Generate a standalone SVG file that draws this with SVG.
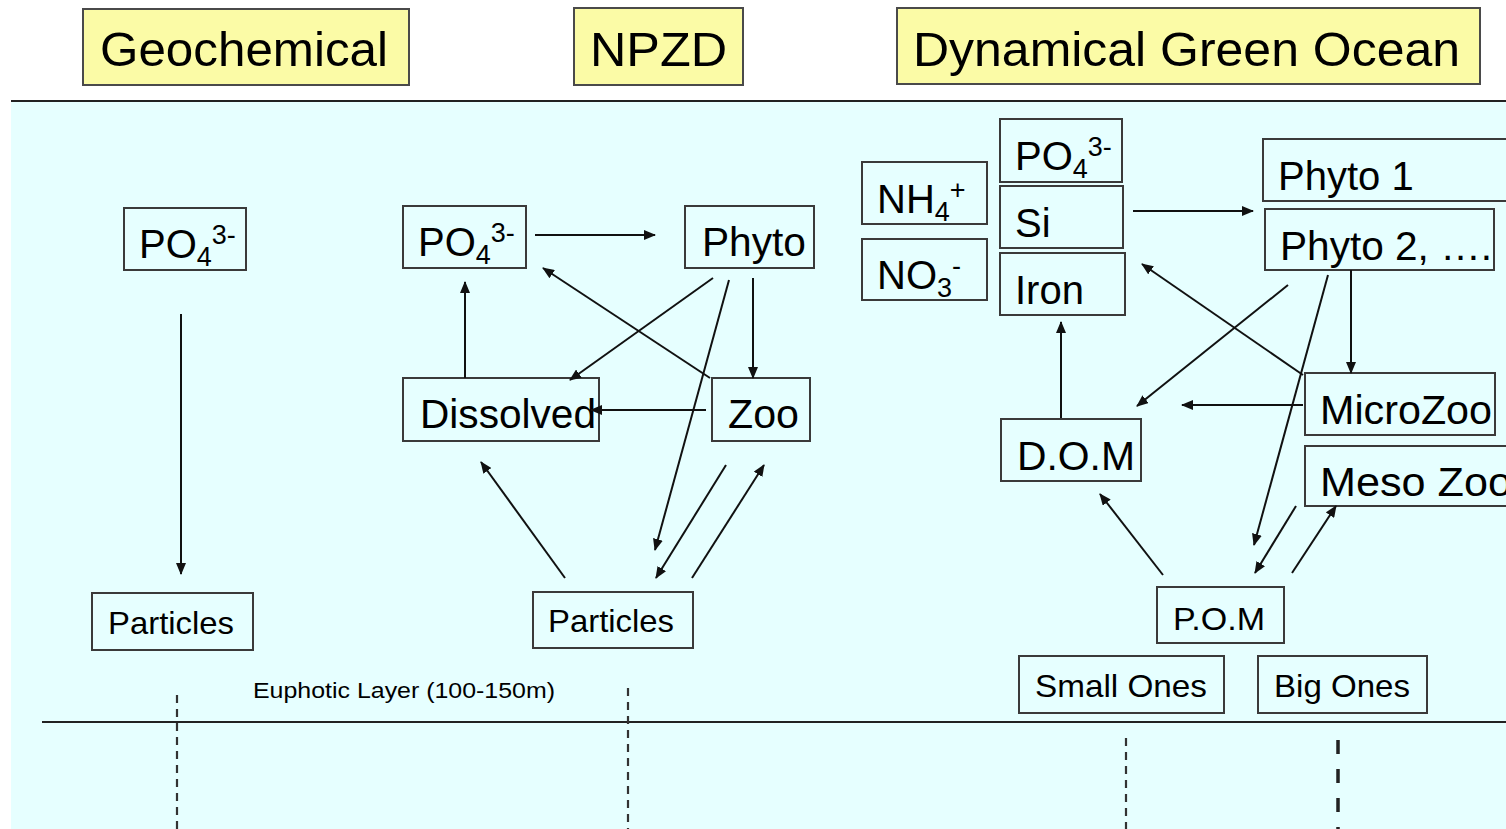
<svg xmlns="http://www.w3.org/2000/svg" width="1506" height="829" viewBox="0 0 1506 829">
<defs>
<style>
.title{fill:#FBFBA6;stroke:#4a4a4a;stroke-width:2}
.box{fill:none;stroke:#3a3a3a;stroke-width:2}
.tt{font-family:"Liberation Sans",Arial,sans-serif;font-size:48px;fill:#000}
.lb{font-family:"Liberation Sans",Arial,sans-serif;font-size:40px;fill:#000}
.sm{font-family:"Liberation Sans",Arial,sans-serif;font-size:32px;fill:#000}
.sub{font-size:27px}
.ar{stroke:#111;stroke-width:2;fill:none;marker-end:url(#ah)}
.dash{stroke:#333;stroke-width:2.2;stroke-dasharray:8 6;fill:none}
</style>
<marker id="ah" viewBox="0 0 12 10" refX="11" refY="5" markerWidth="12" markerHeight="10" markerUnits="userSpaceOnUse" orient="auto">
<path d="M0,0 L12,5 L0,10 z" fill="#111"/>
</marker>
</defs>
<rect x="0" y="0" width="1506" height="829" fill="#fff"/>
<rect x="11" y="102" width="1495" height="727" fill="#E6FFFF"/>
<line x1="11" y1="101" x2="1506" y2="101" stroke="#222" stroke-width="2"/>
<line x1="42" y1="722" x2="1506" y2="722" stroke="#222" stroke-width="2"/>
<g id="depth-lines">
<line class="dash" x1="177" y1="695" x2="177" y2="829"/>
<line class="dash" x1="628" y1="688" x2="628" y2="829"/>
<line class="dash" x1="1126" y1="738" x2="1126" y2="829"/>
<line x1="1338" y1="740" x2="1338" y2="829" stroke="#222" stroke-width="3.5" stroke-dasharray="14 15"/>
</g>
<text x="253" y="698" font-family="Liberation Sans, Arial, sans-serif" font-size="22" textLength="302" lengthAdjust="spacingAndGlyphs">Euphotic Layer (100-150m)</text>

<g id="title-geochemical"><rect class="title" x="83" y="9" width="326" height="76"/><text class="tt" x="100" y="66" textLength="288" lengthAdjust="spacingAndGlyphs">Geochemical</text></g>
<g id="title-npzd"><rect class="title" x="574" y="8" width="169" height="77"/><text class="tt" x="590" y="66" textLength="137" lengthAdjust="spacingAndGlyphs">NPZD</text></g>
<g id="title-dgo"><rect class="title" x="897" y="8" width="583" height="76"/><text class="tt" x="913" y="66" textLength="547" lengthAdjust="spacingAndGlyphs">Dynamical Green Ocean</text></g>

<!-- Geochemical -->
<g id="geo-po4"><rect class="box" x="124" y="208" width="122" height="62"/><text class="lb" x="139" y="258">PO<tspan class="sub" dy="8">4</tspan><tspan class="sub" dy="-22">3-</tspan></text></g>
<g id="geo-particles"><rect class="box" x="92" y="593" width="161" height="57"/><text class="sm" x="108" y="634" textLength="126" lengthAdjust="spacingAndGlyphs">Particles</text></g>

<!-- NPZD -->
<g id="npzd-po4"><rect class="box" x="403" y="206" width="123" height="62"/><text class="lb" x="418" y="256">PO<tspan class="sub" dy="8">4</tspan><tspan class="sub" dy="-22">3-</tspan></text></g>
<g id="npzd-phyto"><rect class="box" x="685" y="206" width="129" height="62"/><text class="lb" x="702" y="256" textLength="104" lengthAdjust="spacingAndGlyphs">Phyto</text></g>
<g id="npzd-dissolved"><rect class="box" x="403" y="378" width="196" height="63"/><text class="lb" x="420" y="428" textLength="176" lengthAdjust="spacingAndGlyphs">Dissolved</text></g>
<g id="npzd-zoo"><rect class="box" x="712" y="378" width="98" height="63"/><text class="lb" x="728" y="428" textLength="71" lengthAdjust="spacingAndGlyphs">Zoo</text></g>
<g id="npzd-particles"><rect class="box" x="533" y="592" width="160" height="56"/><text class="sm" x="548" y="632" textLength="126" lengthAdjust="spacingAndGlyphs">Particles</text></g>

<!-- Dynamical Green Ocean -->
<g id="dgo-nh4"><rect class="box" x="862" y="162" width="125" height="62"/><text class="lb" x="877" y="213">NH<tspan class="sub" dy="8">4</tspan><tspan class="sub" dy="-22">+</tspan></text></g>
<g id="dgo-no3"><rect class="box" x="862" y="239" width="125" height="61"/><text class="lb" x="877" y="289">NO<tspan class="sub" dy="8">3</tspan><tspan class="sub" dy="-22">-</tspan></text></g>
<g id="dgo-po4"><rect class="box" x="1000" y="119" width="122" height="63"/><text class="lb" x="1015" y="170">PO<tspan class="sub" dy="8">4</tspan><tspan class="sub" dy="-22">3-</tspan></text></g>
<g id="dgo-si"><rect class="box" x="1000" y="186" width="123" height="62"/><text class="lb" x="1015" y="237">Si</text></g>
<g id="dgo-iron"><rect class="box" x="1000" y="253" width="125" height="62"/><text class="lb" x="1015" y="304">Iron</text></g>
<g id="dgo-phyto1"><rect class="box" x="1263" y="139" width="250" height="62"/><text class="lb" x="1278" y="190">Phyto 1</text></g>
<g id="dgo-phyto2"><rect class="box" x="1265" y="209" width="229" height="61"/><text class="lb" x="1280" y="260" textLength="212" lengthAdjust="spacingAndGlyphs">Phyto 2, ….</text></g>
<g id="dgo-microzoo"><rect class="box" x="1305" y="373" width="190" height="62"/><text class="lb" x="1320" y="424" textLength="172" lengthAdjust="spacingAndGlyphs">MicroZoo</text></g>
<g id="dgo-mesozoo"><rect class="box" x="1305" y="446" width="210" height="60"/><text class="lb" x="1320" y="496" textLength="192" lengthAdjust="spacingAndGlyphs">Meso Zoo</text></g>
<g id="dgo-dom"><rect class="box" x="1001" y="419" width="140" height="62"/><text class="lb" x="1017" y="470" textLength="118" lengthAdjust="spacingAndGlyphs">D.O.M</text></g>
<g id="dgo-pom"><rect class="box" x="1157" y="587" width="127" height="56"/><text class="sm" x="1173" y="630" textLength="92" lengthAdjust="spacingAndGlyphs">P.O.M</text></g>
<g id="dgo-small"><rect class="box" x="1019" y="656" width="205" height="57"/><text class="sm" x="1035" y="697" textLength="172" lengthAdjust="spacingAndGlyphs">Small Ones</text></g>
<g id="dgo-big"><rect class="box" x="1258" y="656" width="169" height="57"/><text class="sm" x="1274" y="697" textLength="136" lengthAdjust="spacingAndGlyphs">Big Ones</text></g>

<g id="connectors">
<line class="ar" x1="181" y1="314" x2="181" y2="574"/>
<line class="ar" x1="535" y1="235" x2="655" y2="235"/>
<line class="ar" x1="465" y1="378" x2="465" y2="282"/>
<line class="ar" x1="713" y1="278" x2="570" y2="380"/>
<line class="ar" x1="710" y1="378" x2="543" y2="268"/>
<line class="ar" x1="753" y1="278" x2="753" y2="378"/>
<line class="ar" x1="706" y1="410" x2="591" y2="410"/>
<line class="ar" x1="729" y1="280" x2="655" y2="550"/>
<line class="ar" x1="726" y1="465" x2="656" y2="578"/>
<line class="ar" x1="692" y1="578" x2="764" y2="465"/>
<line class="ar" x1="565" y1="578" x2="481" y2="462"/>
<line class="ar" x1="1133" y1="211" x2="1253" y2="211"/>
<line class="ar" x1="1061" y1="418" x2="1061" y2="322"/>
<line class="ar" x1="1288" y1="285" x2="1137" y2="406"/>
<line class="ar" x1="1303" y1="375" x2="1142" y2="264"/>
<line class="ar" x1="1351" y1="270" x2="1351" y2="373"/>
<line class="ar" x1="1303" y1="405" x2="1182" y2="405"/>
<line class="ar" x1="1328" y1="275" x2="1254" y2="545"/>
<line class="ar" x1="1296" y1="506" x2="1255" y2="573"/>
<line class="ar" x1="1292" y1="573" x2="1336" y2="506"/>
<line class="ar" x1="1163" y1="575" x2="1100" y2="494"/>
</g>
</svg>
